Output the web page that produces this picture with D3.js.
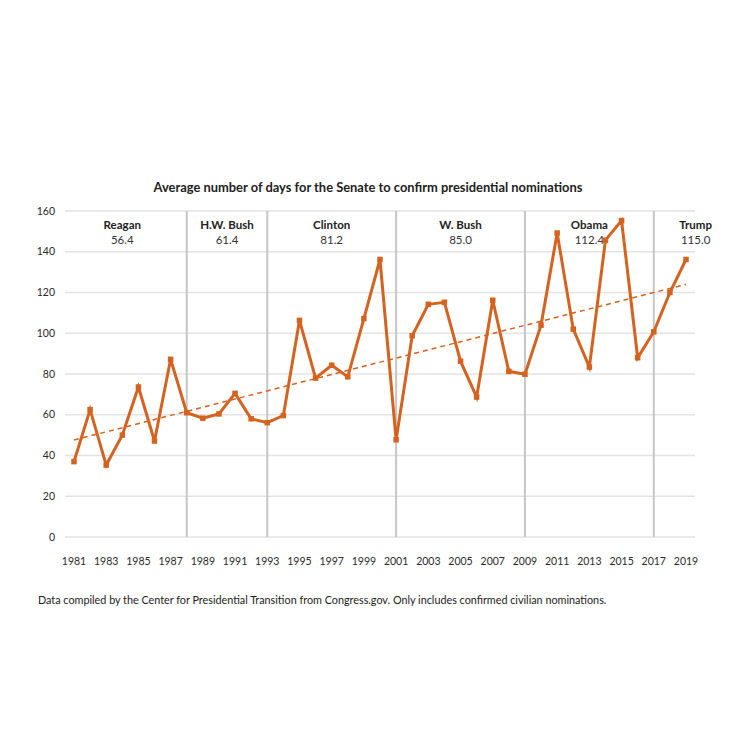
<!DOCTYPE html>
<html>
<head>
<meta charset="utf-8">
<script src="https://cdn.jsdelivr.net/npm/d3@7"></script>
<style>
  html, body { margin: 0; padding: 0; background: #fff; }
  svg text { font-family: "Lato", "Open Sans", sans-serif; }
</style>
</head>
<body>
<svg id="chart" width="750" height="750"></svg>
<script>
const years = d3.range(1981, 2020);
const days = [37, 62.5, 35.3, 50, 73.6, 47.1, 87.2, 61, 58.3, 60.4, 70.5, 58, 56.1, 59.6,
  106.3, 78, 84.3, 78.6, 107.2, 136.2, 47.7, 98.8, 114.2, 115.2, 86.3, 68.7, 116.2, 81.3, 79.9,
  104, 149.2, 102, 83.4, 145.7, 155.3, 88, 100.7, 120, 136.2];
const trendYears = [1981, 2019];
const trendValues = [47.6, 124];
const presidents = ["Reagan", "H.W. Bush", "Clinton", "W. Bush", "Obama", "Trump"];
const presAverages = ["56.4", "61.4", "81.2", "85.0", "112.4", "115.0"];
const presLabelYear = [1984, 1990.5, 1997, 2005, 2013, 2019.6];
const termStarts = [1988, 1993, 2001, 2009, 2017];
const yTicks = [0, 20, 40, 60, 80, 100, 120, 140, 160];
const xTicks = d3.range(1981, 2020, 2);
const title = "Average number of days for the Senate to confirm presidential nominations";
const note = "Data compiled by the Center for Presidential Transition from Congress.gov. Only includes confirmed civilian nominations.";

const svg = d3.select("#chart");
const color = "#d5621f";
const x = d3.scaleLinear().domain([1981, 2019]).range([74, 686]);
const y = d3.scaleLinear().domain([0, 160]).range([537, 211]);
const gridLeft = 65, gridRight = 695;

// gridlines
svg.append("g").selectAll("line").data(yTicks).join("line")
  .attr("x1", gridLeft).attr("x2", gridRight)
  .attr("y1", d => y(d)).attr("y2", d => y(d))
  .attr("stroke", "#e3e3e3").attr("stroke-width", 1.5);

// y labels
svg.append("g").selectAll("text").data(yTicks).join("text")
  .attr("x", 55).attr("y", d => y(d) + 3.5)
  .attr("text-anchor", "end").attr("font-size", 10.5).attr("fill", "#2a2a2a")
  .text(d => d);

// x labels
svg.append("g").selectAll("text").data(xTicks).join("text")
  .attr("x", d => x(d)).attr("y", 565)
  .attr("text-anchor", "middle").attr("font-size", 10.5).attr("fill", "#2a2a2a")
  .text(d => d);

// term separators
svg.append("g").selectAll("line").data(termStarts).join("line")
  .attr("x1", d => x(d)).attr("x2", d => x(d))
  .attr("y1", y(160)).attr("y2", y(0))
  .attr("stroke", "#c6c6c6").attr("stroke-width", 2);

// president labels
const pl = svg.append("g").selectAll("g").data(presidents).join("g");
pl.append("text")
  .attr("x", (d, i) => x(presLabelYear[i])).attr("y", 229)
  .attr("text-anchor", "middle").attr("font-size", 11.5).attr("font-weight", "bold").attr("fill", "#222")
  .text(d => d);
pl.append("text")
  .attr("x", (d, i) => x(presLabelYear[i])).attr("y", 243.5)
  .attr("text-anchor", "middle").attr("font-size", 11.5).attr("fill", "#333")
  .text((d, i) => presAverages[i]);

// trend line
svg.append("path")
  .datum(trendYears.map((t, i) => [t, trendValues[i]]))
  .attr("d", d3.line().x(d => x(d[0])).y(d => y(d[1])))
  .attr("fill", "none").attr("stroke", color).attr("stroke-width", 1.5)
  .attr("stroke-dasharray", "5,4");

// data line
const pts = years.map((yr, i) => [yr, days[i]]);
svg.append("path").datum(pts)
  .attr("d", d3.line().x(d => x(d[0])).y(d => y(d[1])))
  .attr("fill", "none").attr("stroke", color).attr("stroke-width", 3)
  .attr("stroke-linejoin", "miter");

svg.append("g").selectAll("rect").data(pts).join("rect")
  .attr("x", d => x(d[0]) - 2.75).attr("y", d => y(d[1]) - 2.75)
  .attr("width", 5.5).attr("height", 5.5).attr("fill", color);

// title
svg.append("text").attr("x", 368).attr("y", 192)
  .attr("text-anchor", "middle").attr("font-size", 12.9).attr("font-weight", "bold").attr("fill", "#222")
  .text(title);

// note
svg.append("text").attr("x", 38).attr("y", 604)
  .attr("font-size", 10.8).attr("fill", "#222")
  .text(note);
</script>
</body>
</html>
